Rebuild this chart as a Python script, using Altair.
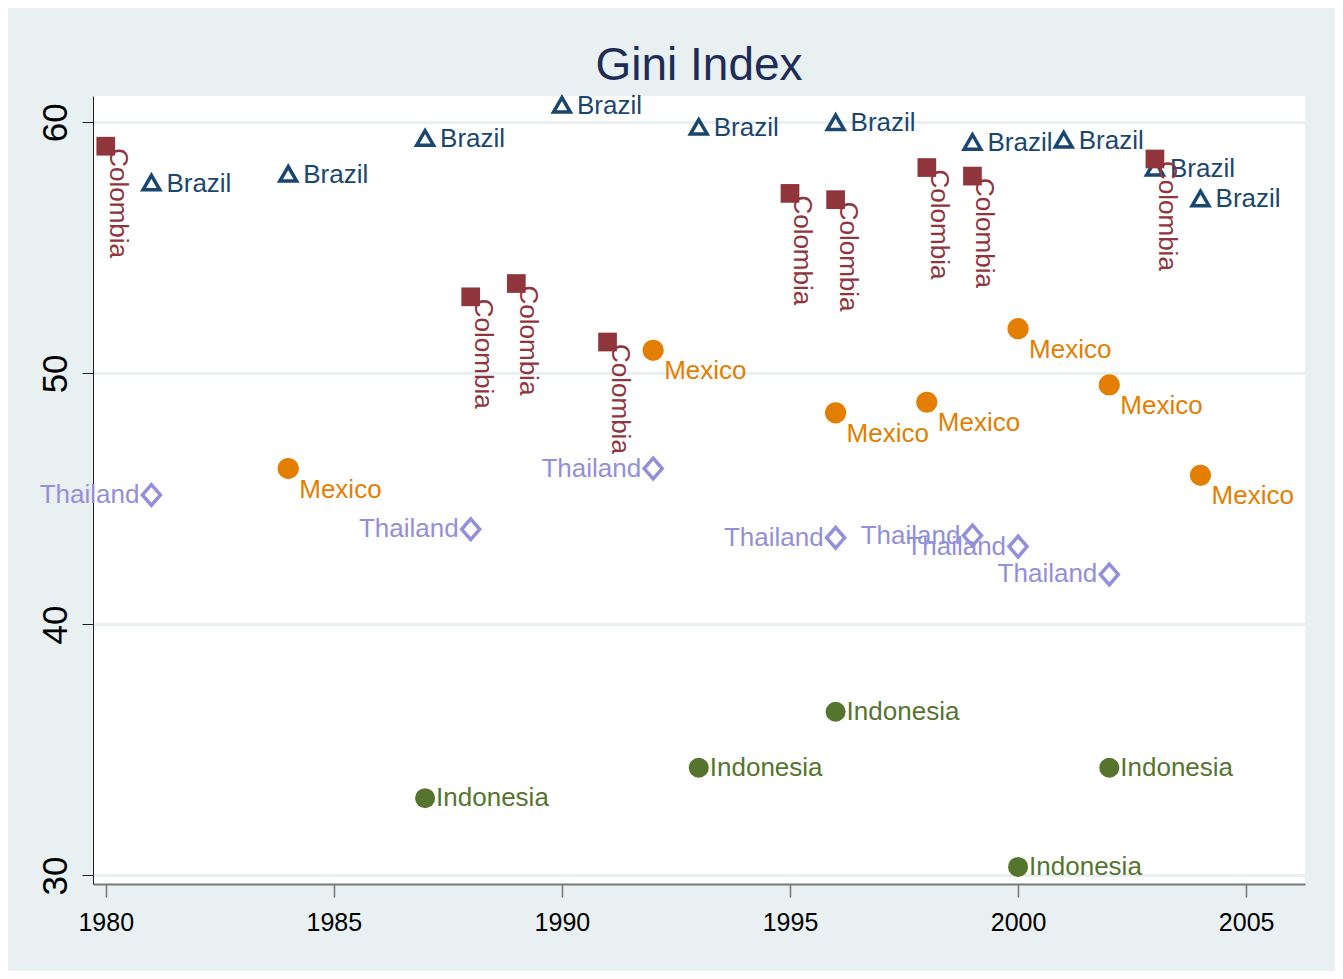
import altair as alt
import pandas as pd

# ---- data ----
brazil_year = [1981, 1984, 1987, 1990, 1993, 1996, 1999, 2001, 2003, 2004]
brazil_gini = [57.60, 57.95, 59.38, 60.70, 59.82, 60.00, 59.22, 59.31, 58.19, 56.97]

colombia_year = [1980, 1988, 1989, 1991, 1995, 1996, 1998, 1999, 2003]
colombia_gini = [59.05, 53.05, 53.58, 51.25, 57.17, 56.92, 58.20, 57.86, 58.54]

indonesia_year = [1987, 1993, 1996, 2000, 2002]
indonesia_gini = [33.08, 34.29, 36.52, 30.34, 34.29]

mexico_year = [1984, 1992, 1996, 1998, 2000, 2002, 2004]
mexico_gini = [46.21, 50.92, 48.43, 48.85, 51.78, 49.54, 45.94]

thailand_year = [1981, 1988, 1992, 1996, 1999, 2000, 2002]
thailand_gini = [45.16, 43.79, 46.21, 43.45, 43.54, 43.10, 41.99]

x_ticks = [1980, 1985, 1990, 1995, 2000, 2005]
y_ticks = [30, 40, 50, 60]

FONT = "Liberation Sans"
BG = "#E8F0F2"


def frame(name, years, vals):
    return pd.DataFrame({"year": years, "gini": vals, "label": [name] * len(years)})


x_enc = alt.X(
    "year:Q",
    scale=alt.Scale(domain=[1979.72, 2006.29], nice=False, zero=False),
    axis=alt.Axis(
        values=x_ticks, format="d", title=None, grid=False,
        labelFont=FONT, labelFontSize=25, labelColor="black",
        tickSize=13, tickColor="#777777", tickWidth=1.5,
        domainColor="#777777", domainWidth=2, labelPadding=13,
    ),
)
y_enc = alt.Y(
    "gini:Q",
    scale=alt.Scale(domain=[29.66, 61.05], nice=False, zero=False),
    axis=alt.Axis(
        values=y_ticks, title=None, grid=True, gridColor=BG, gridWidth=3,
        labelFont=FONT, labelFontSize=35, labelColor="black",
        labelAngle=270, labelAlign="center", labelBaseline="bottom",
        tickSize=11, tickColor="#222222", domainColor="#222222",
        domainWidth=1, labelPadding=9,
    ),
)

layers = []

specs = [
    ("Brazil", brazil_year, brazil_gini, "#1A476F",
     dict(shape="triangle-up", filled=False, strokeWidth=3.5, size=280),
     dict(align="left", baseline="middle", dx=15, dy=1)),
    ("Colombia", colombia_year, colombia_gini, "#90353B",
     dict(shape="square", filled=True, size=350),
     dict(align="left", baseline="middle", dx=2, dy=-12, angle=90)),
    ("Indonesia", indonesia_year, indonesia_gini, "#55752F",
     dict(shape="circle", filled=True, size=400),
     dict(align="left", baseline="middle", dx=11, dy=0)),
    ("Mexico", mexico_year, mexico_gini, "#E37E00",
     dict(shape="circle", filled=True, size=450),
     dict(align="left", baseline="middle", dx=11, dy=21)),
    ("Thailand", thailand_year, thailand_gini, "#938FD9",
     dict(shape="M0,-1.15L1,0L0,1.15L-1,0Z", filled=False, strokeWidth=3.5, size=324),
     dict(align="right", baseline="middle", dx=-12, dy=0)),
]

for name, yrs, vals, col, mk, tx in specs:
    df = frame(name, yrs, vals)
    base = alt.Chart(df)
    if mk.get("filled"):
        pt = base.mark_point(color=col, fill=col, opacity=1, **mk)
    else:
        pt = base.mark_point(stroke=col, opacity=1, **mk)
    layers.append(pt.encode(x=x_enc, y=y_enc))
    layers.append(
        base.mark_text(font=FONT, fontSize=26, color=col, **tx).encode(
            x=x_enc, y=y_enc, text="label:N"
        )
    )

chart = (
    alt.layer(*layers)
    .properties(
        width=1212,
        height=788,
        background=BG,
        autosize=alt.AutoSizeParams(type="none"),
        padding={"left": 85, "top": 88, "right": 30, "bottom": 87},
        title=alt.Title(
            "Gini Index", font=FONT, fontSize=46, fontWeight="normal",
            color="#1E2C57", anchor="middle", frame="group",
            baseline="alphabetic", offset=18, dy=53,
        ),
    )
    .configure_view(strokeWidth=0, fill="white")
)

chart.save("out.html", embed_options={"renderer": "svg", "actions": False})
